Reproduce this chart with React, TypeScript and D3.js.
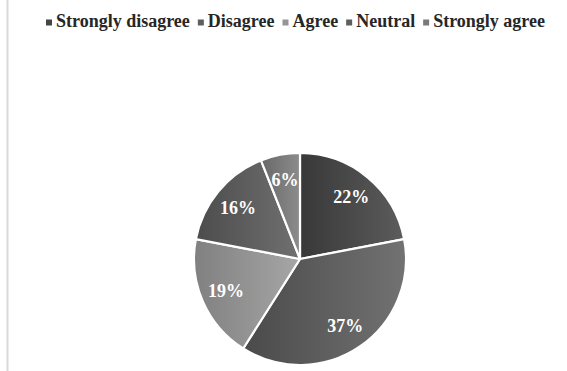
import React, { useLayoutEffect, useRef, useState } from "react";
import * as d3 from "d3";

const categories = ["Strongly disagree", "Disagree", "Agree", "Neutral", "Strongly agree"];
const values = [22, 37, 19, 16, 6];
const gradStart = ["#383838", "#4a4a4a", "#808080", "#4c4c4c", "#686868"];
const gradEnd = ["#5c5c5c", "#727272", "#a6a6a6", "#707070", "#8c8c8c"];
const legendColors = ["#454545", "#5e5e5e", "#959595", "#5e5e5e", "#7a7a7a"];

const W = 567;
const H = 371;
const cx = 300;
const cy = 259;
const R = 106;
const FONT = "Liberation Serif";

export default function App() {
  const legendRef = useRef<SVGGElement>(null);
  const [offsets, setOffsets] = useState<number[]>(categories.map((_, i) => i * 110));

  useLayoutEffect(() => {
    if (!legendRef.current) return;
    const texts = legendRef.current.querySelectorAll("text");
    const xs: number[] = [];
    let x = 0;
    texts.forEach((t) => {
      xs.push(x);
      x += 10 + (t as SVGTextElement).getComputedTextLength() + 8;
    });
    if (xs.some((v, i) => Math.abs(v - offsets[i]) > 0.5)) setOffsets(xs);
  }, []);

  const pie = d3.pie<number>().sort(null).value((d) => d)(values);
  const arc = d3.arc<d3.PieArcDatum<number>>().innerRadius(0).outerRadius(R);
  const labelArc = d3.arc<d3.PieArcDatum<number>>().innerRadius(R * 0.76).outerRadius(R * 0.76);
  const total = d3.sum(values);

  return (
    <svg width={W} height={H} style={{ position: "absolute", left: 0, top: 0, background: "#fff" }}>
      <defs>
        {values.map((_, i) => (
          <linearGradient key={i} id={`g${i}`} x1="0" y1="0" x2="1" y2="0">
            <stop offset="0" stopColor={gradStart[i]} />
            <stop offset="1" stopColor={gradEnd[i]} />
          </linearGradient>
        ))}
      </defs>
      <line x1={7.5} x2={7.5} y1={0} y2={H} stroke="#d9d9d9" strokeWidth={2} />
      <g ref={legendRef} transform="translate(46,27)">
        {categories.map((c, i) => (
          <g key={c} transform={`translate(${offsets[i]},0)`}>
            <rect x={0} y={-7.5} width={6} height={6} fill={legendColors[i]} />
            <text x={10} y={0} fontFamily={FONT} fontWeight="bold" fontSize={18} fill="#262626">{c}</text>
          </g>
        ))}
      </g>
      <g transform={`translate(${cx},${cy})`}>
        {pie.map((d, i) => (
          <path key={i} d={arc(d) || ""} fill={`url(#g${i})`} stroke="#fff" strokeWidth={2.2} strokeLinejoin="round" />
        ))}
        {pie.map((d, i) => {
          const [x, y] = labelArc.centroid(d);
          return (
            <text key={i} x={x} y={y} dy="0.35em" textAnchor="middle" fill="#fff"
              fontFamily={FONT} fontWeight="bold" fontSize={18}>
              {Math.round((d.data / total) * 100)}%
            </text>
          );
        })}
      </g>
    </svg>
  );
}
